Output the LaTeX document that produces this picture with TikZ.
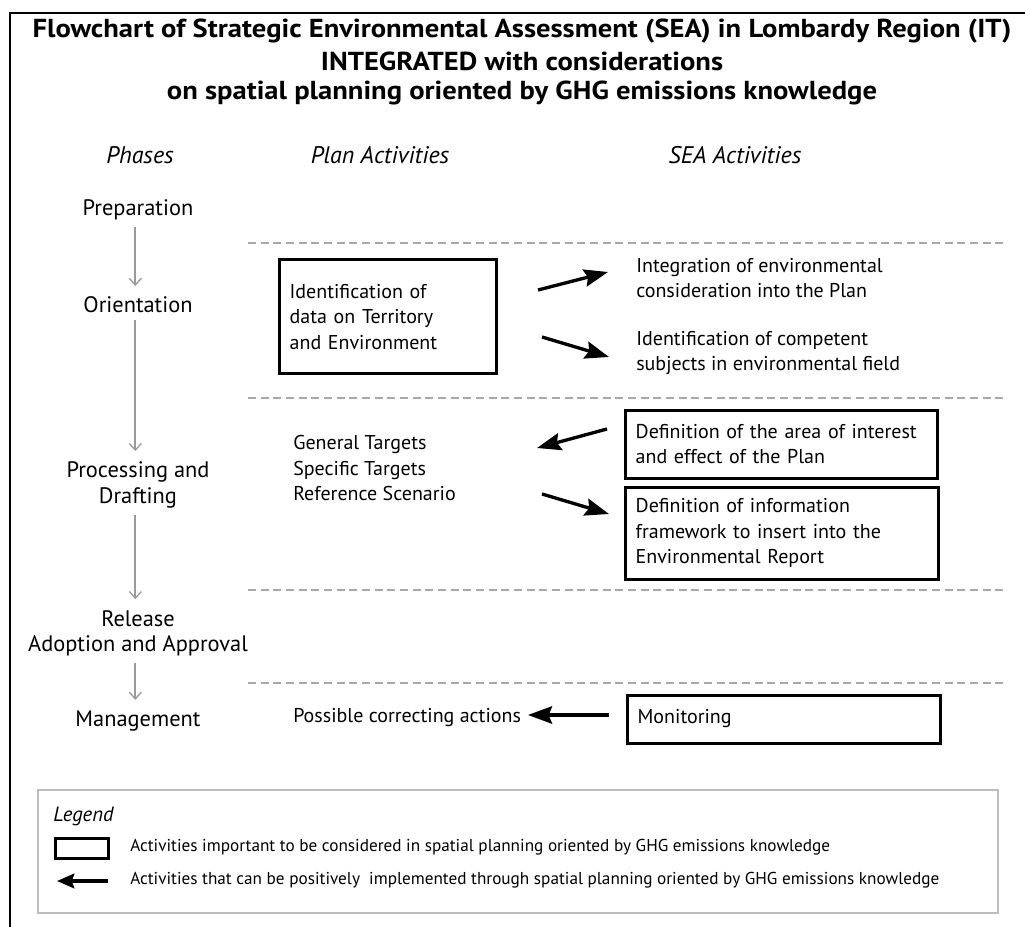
\documentclass[tikz,border=0pt]{standalone}
\usepackage{fontspec}
\setmainfont{PT Sans}
\newfontfamily\widefont[FakeStretch=1.1]{PT Sans}
\usetikzlibrary{arrows.meta}
\definecolor{phasegray}{HTML}{9A9A9A}
\definecolor{dashgray}{HTML}{A8A8A8}
\definecolor{legendgray}{HTML}{BDBDBD}
\begin{document}
\begin{tikzpicture}[x=0.75pt,y=-0.75pt,
  body/.style={font=\fontsize{15}{19}\selectfont, inner sep=0pt, align=left, anchor=west},
  head/.style={font=\itshape\fontsize{18}{20}\selectfont, inner sep=0pt},
  phase/.style={font=\fontsize{16.8}{19}\selectfont, inner sep=0pt, align=center},
  ttl/.style={font=\widefont\bfseries\fontsize{19.5}{22}\selectfont, inner sep=0pt},
  abox/.style={draw=black, line width=2.25pt, inner xsep=8pt, inner ysep=0pt, align=left, font=\fontsize{15}{19}\selectfont},
  flow/.style={draw=phasegray, line width=1.4pt, shorten <=5pt, shorten >=8pt, -{Straight Barb[length=5pt,width=9pt,line width=1pt]}},
  sep/.style={draw=dashgray, line width=1.4pt, dash pattern=on 6pt off 3.5pt},
  bigarrow/.style={draw=black, line width=2.5pt, -{Stealth[length=18pt,width=13pt,inset=2.5pt]}},
  frame/.style={draw=black, line width=1.6pt}
]
\useasboundingbox (0,0) rectangle (1025,927);
\fill[white] (0,0) rectangle (1025,927);
% frame
\coordinate (fl) at (10,927);
\coordinate (ftl) at (10,13);
\coordinate (ftr) at (1025,13);
\draw[frame] (fl) -- (ftl) -- (ftr);

% title
\node[ttl] (t1) at (522,31) {Flowchart of Strategic Environmental Assessment (SEA) in Lombardy Region (IT)};
\node[ttl] (t2) at (522,61) {INTEGRATED with considerations};
\node[ttl] (t3) at (522,93) {on spatial planning oriented by GHG emissions knowledge};

% column headers
\node[head] (hph) at (140,155) {Phases};
\node[head] (hpl) at (380,155) {Plan Activities};
\node[head] (hsea) at (735,155) {SEA Activities};

% phases
\node[phase] (prep) at (138,210) {Preparation};
\node[phase] (orient) at (138,305) {Orientation};
\node[phase] (proc) at (138,485) {Processing and\\Drafting};
\node[phase] (rel) at (138,633) {Release\\Adoption and Approval};
\node[phase] (mgmt) at (138,721) {Management};

\draw[flow] ([xshift=-2pt]prep.south) -- ([xshift=-2pt]orient.north);
\draw[flow] ([xshift=-2pt]orient.south) -- ([xshift=-2pt]proc.north);
\draw[flow] ([xshift=-2pt]proc.south) -- ([xshift=-2pt]rel.north);
\draw[flow] ([xshift=-2pt]rel.south) -- ([xshift=-2pt]mgmt.north);

% separators
\coordinate (d1a) at (248,243); \coordinate (d1b) at (1005,243);
\coordinate (d2a) at (248,398); \coordinate (d2b) at (1005,398);
\coordinate (d3a) at (248,590); \coordinate (d3b) at (1005,590);
\coordinate (d4a) at (248,683); \coordinate (d4b) at (1005,683);
\draw[sep] (d1a) -- (d1b);
\draw[sep] (d2a) -- (d2b);
\draw[sep] (d3a) -- (d3b);
\draw[sep] (d4a) -- (d4b);

% plan activities
\node[abox, minimum width=162.75pt, minimum height=85.5pt, text width=146.75pt] (idb) at (387.5,317) {Identification of\\data on Territory\\and Environment};
\node[body] (targ) at (293,468) {General Targets\\Specific Targets\\Reference Scenario};
\node[body] (corr) at (293,718) {Possible correcting actions};

% SEA activities
\node[body] (integ) at (636,278) {Integration of environmental\\consideration into the Plan};
\node[body] (compet) at (636,353) {Identification of competent\\subjects in environmental field};
\node[abox, minimum width=234pt, minimum height=51pt, text width=218pt] (area) at (781,444) {Definition of the area of interest\\and effect of the Plan};
\node[abox, minimum width=234.75pt, minimum height=69pt, text width=218.75pt] (frame3) at (781.5,533) {Definition of information\\framework to insert into the\\Environmental Report};
\node[abox, minimum width=234.75pt, minimum height=36pt, text width=218.75pt] (monit) at (783.5,719) {Monitoring};

% black arrows
\coordinate (a1s) at (538,290); \coordinate (a1e) at (608,272);
\coordinate (a2s) at (542,337); \coordinate (a2e) at (609,357);
\coordinate (a3s) at (607,429); \coordinate (a3e) at (537,448);
\coordinate (a4s) at (542,494); \coordinate (a4e) at (609,514);
\coordinate (a5s) at (609,715); \coordinate (a5e) at (528,715);
\draw[bigarrow] (a1s) -- (a1e);
\draw[bigarrow] (a2s) -- (a2e);
\draw[bigarrow] (a3s) -- (a3e);
\draw[bigarrow] (a4s) -- (a4e);
\draw[bigarrow] (a5s) -- (a5e);

% legend
\node[draw=legendgray, line width=1.4pt, minimum width=720pt, minimum height=92.25pt, inner sep=0pt] (leg) at (518,851.5) {};
\node[font=\itshape\fontsize{15.5}{17}\selectfont, inner sep=0pt, anchor=west] (legt) at (53,816) {Legend};
\node[draw=black, line width=2.25pt, minimum width=39.75pt, minimum height=15pt, inner sep=0pt] (legbox) at (81.5,848) {};
\node[font=\fontsize{12.9}{15}\selectfont, inner sep=0pt, anchor=west] (legt1) at (130,847) {Activities important to be considered in spatial planning oriented by GHG emissions knowledge};
\coordinate (las) at (108,881); \coordinate (lae) at (57,881);
\draw[draw=black, line width=2.4pt, -{Stealth[length=13pt,width=11pt,inset=2pt]}] (las) -- (lae);
\node[font=\fontsize{12.9}{15}\selectfont, inner sep=0pt, anchor=west] (legt2) at (130,880) {Activities that can be positively\ \ implemented through spatial planning oriented by GHG emissions knowledge};
\end{tikzpicture}
\end{document}
